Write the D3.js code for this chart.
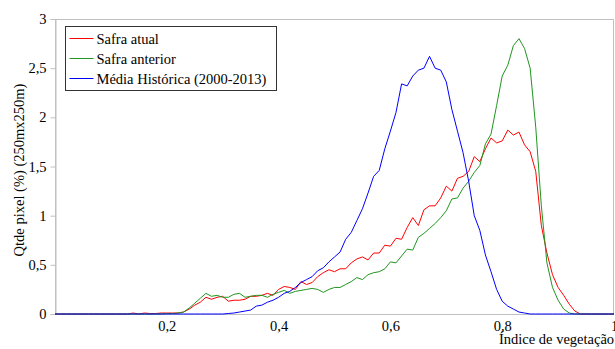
<!DOCTYPE html>
<html>
<head>
<meta charset="utf-8">
<script src="https://cdn.jsdelivr.net/npm/d3@7"></script>
<style>
  body { margin: 0; background: #fff; }
  svg text { font-family: "Liberation Serif", "Times New Roman", serif !important; }
</style>
</head>
<body>
<script>
// values, one per 0.01 of the index
var indice = d3.range(0, 101).map(function (i) { return i / 100; });

var safraAtual = [
  0, 0, 0, 0, 0, 0, 0, 0, 0, 0,
  0, 0, 0, 0, 0.01, 0, 0.01, 0.005, 0.005, 0.01,
  0.01, 0.01, 0.01, 0.02, 0.05, 0.09, 0.12, 0.17, 0.15, 0.17,
  0.18, 0.13, 0.14, 0.14, 0.15, 0.18, 0.18, 0.19, 0.21, 0.19,
  0.25, 0.28, 0.27, 0.25, 0.33, 0.30, 0.32, 0.38, 0.42, 0.45,
  0.43, 0.46, 0.46, 0.52, 0.56, 0.58, 0.55, 0.62, 0.62, 0.70,
  0.69, 0.77, 0.76, 0.88, 0.98, 0.90, 1.06, 1.10, 1.10, 1.18,
  1.30, 1.25, 1.38, 1.40, 1.45, 1.60, 1.55, 1.68, 1.79, 1.74,
  1.76, 1.87, 1.82, 1.85, 1.72, 1.65, 1.45, 0.90, 0.62, 0.40,
  0.27, 0.19, 0.10, 0.03, 0, 0, 0, 0, 0, 0,
  0
];

var safraAnterior = [
  0, 0, 0, 0, 0, 0, 0, 0, 0, 0,
  0, 0, 0, 0, 0, 0, 0, 0, 0, 0,
  0.005, 0.005, 0.01, 0.02, 0.06, 0.11, 0.16, 0.21, 0.18, 0.19,
  0.17, 0.17, 0.20, 0.21, 0.17, 0.18, 0.19, 0.19, 0.17, 0.20,
  0.22, 0.24, 0.21, 0.23, 0.24, 0.25, 0.26, 0.25, 0.22, 0.25,
  0.27, 0.27, 0.30, 0.33, 0.37, 0.35, 0.40, 0.42, 0.43, 0.46,
  0.53, 0.52, 0.59, 0.66, 0.65, 0.78, 0.82, 0.87, 0.92, 0.98,
  1.05, 1.17, 1.18, 1.28, 1.35, 1.44, 1.51, 1.73, 1.83, 2.12,
  2.42, 2.53, 2.73, 2.80, 2.70, 2.50, 1.90, 1.10, 0.52, 0.27,
  0.14, 0.05, 0.01, 0, 0, 0, 0, 0, 0, 0,
  0
];

var mediaHistorica = [
  0, 0, 0, 0, 0, 0, 0, 0, 0, 0,
  0, 0, 0, 0, 0, 0, 0, 0, 0, 0,
  0, 0, 0, 0, 0, 0, 0, 0, 0, 0,
  0, 0.005, 0.01, 0.02, 0.03, 0.04, 0.08, 0.09, 0.12, 0.14,
  0.17, 0.21, 0.23, 0.27, 0.32, 0.35, 0.38, 0.44, 0.47, 0.53,
  0.58, 0.63, 0.76, 0.83, 0.95, 1.07, 1.23, 1.40, 1.46, 1.68,
  1.86, 2.05, 2.34, 2.32, 2.42, 2.48, 2.50, 2.62, 2.50, 2.48,
  2.36, 2.08, 1.86, 1.64, 1.35, 1.00, 0.85, 0.60, 0.43, 0.25,
  0.13, 0.08, 0.05, 0.02, 0.01, 0, 0, 0, 0, 0,
  0, 0, 0, 0, 0, 0, 0, 0, 0, 0,
  0
];

var xTicks = [0.2, 0.4, 0.6, 0.8, 1];
var yTicks = [0, 0.5, 1, 1.5, 2, 2.5, 3];

var series = [
  { name: "Safra atual", values: safraAtual, color: "#ff0000" },
  { name: "Safra anterior", values: safraAnterior, color: "#1f961f" },
  { name: "Média Histórica (2000-2013)", values: mediaHistorica, color: "#0000ff" }
];

var width = 615, height = 349;
var plotL = 55, plotR = 614, plotT = 19, plotB = 314;
var serif = "'Liberation Serif', 'Times New Roman', serif";
var fs = 14.5;

var br = d3.formatLocale({ decimal: ",", thousands: ".", grouping: [3], currency: ["R$", ""] });
var fmt = br.format("~g");

var x = d3.scaleLinear().domain([0, 1]).range([plotL, plotR]);
var y = d3.scaleLinear().domain([0, 3]).range([plotB, plotT]);

var svg = d3.select("body").append("svg")
    .attr("width", width)
    .attr("height", height)
    .attr("font-family", serif);

// plot area frame
svg.append("rect")
    .attr("x", plotL + 0.5).attr("y", plotT + 0.5)
    .attr("width", plotR - plotL - 1).attr("height", plotB - plotT)
    .attr("fill", "none")
    .attr("stroke", "#c0c0c0");

var yAxis = svg.append("g")
    .attr("transform", "translate(" + (plotL + 0.5) + ",0)")
    .call(d3.axisLeft(y).tickValues(yTicks).tickFormat(fmt).tickSize(5).tickPadding(4));
yAxis.attr("font-family", serif).attr("font-size", fs);
yAxis.select(".domain").attr("stroke", "#c0c0c0");
yAxis.selectAll(".tick line").attr("stroke", "#c0c0c0");
yAxis.selectAll("text").attr("fill", "#000");

var xAxis = svg.append("g")
    .attr("transform", "translate(0," + (plotB + 0.5) + ")")
    .call(d3.axisBottom(x).tickValues(xTicks).tickFormat(fmt).tickSize(0).tickPadding(6));
xAxis.attr("font-family", serif).attr("font-size", fs);
xAxis.select(".domain").remove();
xAxis.selectAll("text").attr("fill", "#000");

// axis titles
svg.append("text")
    .attr("transform", "translate(24,170) rotate(-90)")
    .attr("text-anchor", "middle")
    .attr("font-size", fs)
    .text("Qtde pixel (%) (250mx250m)");

svg.append("text")
    .attr("x", 499).attr("y", 344)
    .attr("font-size", fs)
    .text("Índice de vegetação");

// curves
var line = d3.line()
    .x(function (d, i) { return x(indice[i]); })
    .y(function (d) { return y(d); });

svg.selectAll("path.curve")
    .data(series)
    .enter()
    .append("path")
    .attr("class", "curve")
    .attr("fill", "none")
    .attr("stroke", function (d) { return d.color; })
    .attr("stroke-width", 1)
    .attr("d", function (d) { return line(d.values); });

// legend
var lg = svg.append("g").attr("transform", "translate(65.5,26.5)");
lg.append("rect")
    .attr("width", 211).attr("height", 64)
    .attr("fill", "#fff")
    .attr("stroke", "#333");

var item = lg.selectAll("g.item")
    .data(series)
    .enter()
    .append("g")
    .attr("class", "item")
    .attr("transform", function (d, i) { return "translate(0," + (12 + i * 20) + ")"; });

item.append("line")
    .attr("x1", 4).attr("x2", 28)
    .attr("stroke", function (d) { return d.color; });

item.append("text")
    .attr("x", 31).attr("y", 5)
    .attr("font-size", fs)
    .text(function (d) { return d.name; });
</script>
</body>
</html>
